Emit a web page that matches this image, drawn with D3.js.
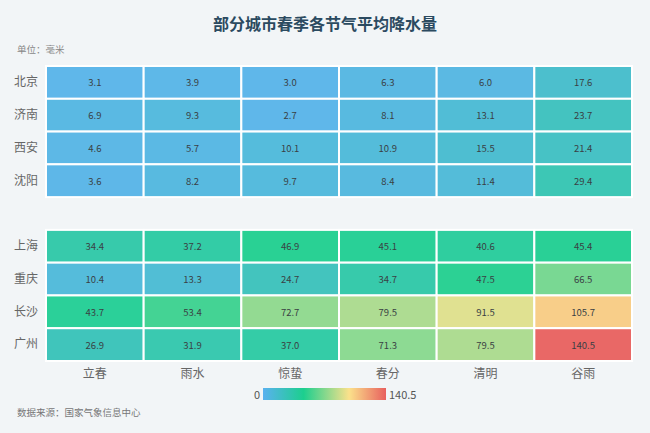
<!DOCTYPE html>
<html>
<head>
<meta charset="utf-8">
<script src="https://cdn.jsdelivr.net/npm/d3@7"></script>
<style>
body{margin:0;background:#f2f5f7;font-family:"Noto Sans CJK SC","Noto Sans",sans-serif;}
</style>
</head>
<body>
<div class="chart"></div>
<script>
// 节气 + 城市
const terms = ["立春","雨水","惊蛰","春分","清明","谷雨"];
const cities = ["北京","济南","西安","沈阳"," ","上海","重庆","长沙","广州"];

const rain = {
  "北京":[3.1,3.9,3.0,6.3,6.0,17.6],
  "济南":[6.9,9.3,2.7,8.1,13.1,23.7],
  "西安":[4.6,5.7,10.1,10.9,15.5,21.4],
  "沈阳":[3.6,8.2,9.7,8.4,11.4,29.4],
  "上海":[34.4,37.2,46.9,45.1,40.6,45.4],
  "重庆":[10.4,13.3,24.7,34.7,47.5,66.5],
  "长沙":[43.7,53.4,72.7,79.5,91.5,105.7],
  "广州":[26.9,31.9,37.0,71.3,79.5,140.5]
};
const rangeMin = 0, rangeMax = 140.5;

const data = [];
cities.forEach(c=>{
  if(!rain[c]) return;
  rain[c].forEach((v,i)=>data.push({city:c, term:terms[i], value:v}));
});

const W = 650, H = 433;
const margin = {top:66, left:46, right:18, bottom:72};
const width = W - margin.left - margin.right;
const height = H - margin.top - margin.bottom;

const svg = d3.select(".chart").append("svg")
  .attr("width", W).attr("height", H);

svg.append("text")
  .attr("x", W/2).attr("y", 30)
  .attr("text-anchor","middle")
  .attr("font-size",16).attr("font-weight","bold")
  .attr("fill","#2b4a60")
  .text("部分城市春季各节气平均降水量");

svg.append("text")
  .attr("x",17).attr("y",53)
  .attr("font-size",9.5).attr("fill","#888")
  .text("单位：毫米");

svg.append("text")
  .attr("x",17).attr("y",416)
  .attr("font-size",9.5).attr("fill","#777")
  .text("数据来源：国家气象信息中心");

const g = svg.append("g")
  .attr("transform",`translate(${margin.left},${margin.top})`);

const x = d3.scaleBand().domain(terms).range([0,width]);
const y = d3.scaleBand().domain(cities).range([0,height]);

const stops = [0, 0.33, 0.7, 1];
const stopColors = ["#5ab1ef","#1ccf8e","#fbe18b","#e8605e"];
const color = d3.scaleLinear()
  .domain(stops.map(s=>rangeMin + s*(rangeMax-rangeMin)))
  .range(stopColors)
  .interpolate(d3.interpolateRgb);

g.selectAll(".cell")
  .data(data)
  .enter()
  .append("rect")
  .attr("class","cell")
  .attr("x",d=>x(d.term))
  .attr("y",d=>y(d.city))
  .attr("width",x.bandwidth())
  .attr("height",y.bandwidth())
  .attr("fill",d=>color(d.value))
  .attr("fill-opacity",0.95)
  .attr("stroke","#fff")
  .attr("stroke-width",2);

g.selectAll(".cell-label")
  .data(data)
  .enter()
  .append("text")
  .attr("class","cell-label")
  .attr("x",d=>x(d.term)+x.bandwidth()/2)
  .attr("y",d=>y(d.city)+y.bandwidth()/2)
  .attr("text-anchor","middle")
  .attr("dominant-baseline","central")
  .attr("font-size",9.5)
  .attr("fill","#3a3f44")
  .text(d=>d.value.toFixed(1));

const yAxis = d3.axisLeft(y).tickSize(0).tickPadding(8);
g.append("g")
  .attr("class","axis y-axis")
  .call(yAxis)
  .call(a=>a.select(".domain").remove())
  .selectAll("text")
  .attr("font-size",12)
  .attr("font-family","Noto Sans CJK SC")
  .attr("fill","#666");

const xAxis = d3.axisBottom(x).tickSize(0).tickPadding(8);
g.append("g")
  .attr("class","axis x-axis")
  .attr("transform",`translate(0,${height})`)
  .call(xAxis)
  .call(a=>a.select(".domain").remove())
  .selectAll("text")
  .attr("font-size",12)
  .attr("font-family","Noto Sans CJK SC")
  .attr("fill","#666");

// 连续型图例
const legX = 263, legY = 388, legW = 123, legH = 12;
const defs = svg.append("defs");
const grad = defs.append("linearGradient").attr("id","leg-grad");
stops.forEach((s,i)=>grad.append("stop")
  .attr("offset",s*100+"%")
  .attr("stop-color",stopColors[i]));

svg.append("rect")
  .attr("x",legX).attr("y",legY)
  .attr("width",legW).attr("height",legH)
  .attr("fill","url(#leg-grad)");

svg.append("text")
  .attr("x",legX-3).attr("y",legY+legH/2)
  .attr("text-anchor","end")
  .attr("dominant-baseline","central")
  .attr("font-size",11).attr("fill","#555")
  .text(rangeMin);

svg.append("text")
  .attr("x",legX+legW+3).attr("y",legY+legH/2)
  .attr("dominant-baseline","central")
  .attr("font-size",11).attr("fill","#555")
  .text(rangeMax);
</script>
</body>
</html>
